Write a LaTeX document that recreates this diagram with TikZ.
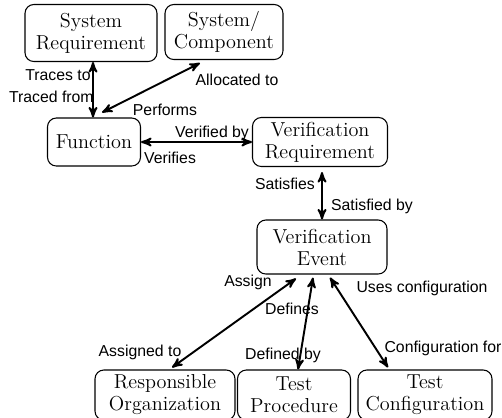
\documentclass[tikz,border=0pt]{standalone}
\usepackage{fontspec}
\newfontfamily\lblfont{Liberation Sans}
\usetikzlibrary{positioning,calc}
\usetikzlibrary{arrows}

\tikzset{
	blk/.style = {draw, rounded corners=5pt, line width=0.6pt, align=center,
		inner xsep=2pt, inner ysep=1pt, font=\fontsize{11.5}{12.5}\selectfont},
	lbl/.style = {font=\lblfont\fontsize{9}{10}\selectfont, inner sep=0pt},
	link/.style = {<->, line width=1.1pt}
}

\begin{document}
\begin{tikzpicture}[>=stealth', x=0.02cm, y=-0.02cm]
\useasboundingbox (0,0) rectangle (502,417);

% boxes
\node [blk, minimum width=2.64cm, minimum height=1.14cm] (sysreq) at (91, 33) {System\\Requirement};
\node [blk, minimum width=2.36cm, minimum height=1.1cm] (syscomp) at (224, 32) {System/\\Component};
\node [blk, minimum width=1.86cm, minimum height=0.96cm] (func) at (94, 142) {Function};
\node [blk, minimum width=2.7cm, minimum height=0.98cm] (verreq) at (320, 142) {Verification\\Requirement};
\node [blk, minimum width=2.6cm, minimum height=1.08cm] (verevt) at (322, 247) {Verification\\Event};
\node [blk, minimum width=2.8cm, minimum height=1cm] (resporg) at (165, 395) {Responsible\\Organization};
\node [blk, minimum width=2.26cm, minimum height=1cm] (testproc) at (294, 395) {Test\\Procedure};
\node [blk, minimum width=2.68cm, minimum height=1cm] (testconf) at (425, 395) {Test\\Configuration};

% connectors
\coordinate (srfoot) at ($(sysreq.south)+(2,0)$);
\draw [link] (srfoot) -- (srfoot |- func.north);
\draw [link] ($(func.north)+(8,-5)$) -- ($(syscomp.south)+(-24,3)$);
\draw [link] (func.east) -- (verreq.west);
\draw [link] ($(verreq.south)+(2,5)$) -- (verevt.north);
\draw [link] ($(verevt.south)+(-26,4)$) -- ($(resporg.north)+(7,-2)$);
\draw [link] ($(verevt.south)+(-9,3)$) -- ($(testproc.north)+(4,0)$);
\draw [link] ($(verevt.south)+(8,3)$) -- ($(testconf.north)+(-37,-2)$);

% labels
\node [lbl, anchor=east] (tracesto) at (91, 75) {Traces to};
\node [lbl, anchor=east] (tracedfrom) at (94, 97) {Traced from};
\node [lbl] (allocto) at (237, 80) {Allocated to};
\node [lbl] (performs) at (165, 110) {Performs};
\node [lbl] (verifby) at (212, 133) {Verified by};
\node [lbl] (verifies) at (170, 158) {Verifies};
\node [lbl] (satisfies) at (285, 184) {Satisfies};
\node [lbl] (satisfby) at (372, 206) {Satisfied by};
\node [lbl] (assign) at (248, 282) {Assign};
\node [lbl] (defines) at (292, 309) {Defines};
\node [lbl] (usesconf) at (422, 288) {Uses configuration};
\node [lbl] (assignto) at (140, 352) {Assigned to};
\node [lbl] (definedby) at (283, 355) {Defined by};
\node [lbl] (conffor) at (443, 348) {Configuration for};

\end{tikzpicture}
\end{document}
